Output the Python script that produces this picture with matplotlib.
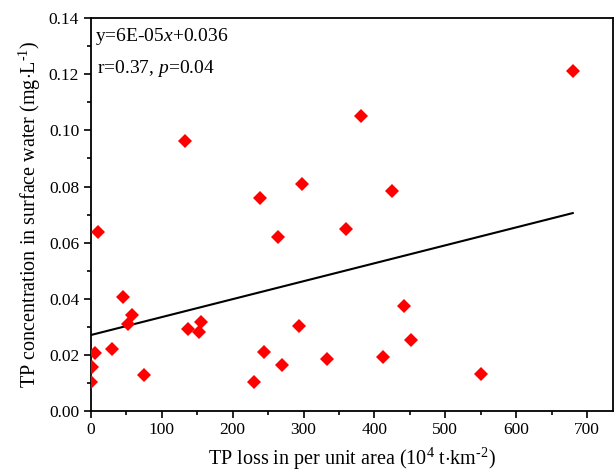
import numpy as np
import matplotlib
matplotlib.use("Agg")
import matplotlib.pyplot as plt
from matplotlib.ticker import MultipleLocator

# data
tp_loss = [132.8, 238.7, 10.3, 263.7, 44.7, 57.4, 52.7, 5.6, 29.2, 1.0, 0.0,
           75.3, 137.5, 154.9, 152.5, 244.8, 230.7, 270.2, 380.9, 297.6, 424.7,
           359.7, 441.6, 294.2, 452.0, 332.9, 412.0, 549.9, 680.3]
tp_conc = [0.0964, 0.0760, 0.0639, 0.0618, 0.0404, 0.0340, 0.0309, 0.0206, 0.0220,
           0.0156, 0.0101, 0.0128, 0.0290, 0.0316, 0.0281, 0.0208, 0.0101, 0.0163,
           0.1052, 0.0808, 0.0785, 0.0648, 0.0372, 0.0303, 0.0252, 0.0186, 0.0191,
           0.0131, 0.1214]

# fitted line as drawn in the picture
line_x = [0.0, 680.0]
line_intercept = 0.027
line_slope = 6.4e-05

plt.rcParams['font.family'] = ['Liberation Serif', 'DejaVu Serif']
plt.rcParams['mathtext.fontset'] = 'custom'
plt.rcParams['mathtext.rm'] = 'Liberation Serif'
plt.rcParams['mathtext.it'] = 'Liberation Serif:italic'

fig = plt.figure(figsize=(6.15, 4.72), dpi=100)
ax = fig.add_axes([0.148, 0.130, 0.849, 0.831])

ax.plot(tp_loss, tp_conc, linestyle='none', marker='D', color='#ff0000',
        markersize=7.5, markeredgewidth=0, zorder=3)

lx = np.array(line_x)
ax.plot(lx, line_intercept + line_slope * lx, color='black', linewidth=1.5, zorder=2)

ax.set_xlim(0, 737)
ax.set_ylim(0, 0.14)
ax.xaxis.set_major_locator(MultipleLocator(100))
ax.xaxis.set_minor_locator(MultipleLocator(50))
ax.yaxis.set_major_locator(MultipleLocator(0.02))
ax.yaxis.set_minor_locator(MultipleLocator(0.01))
ax.yaxis.set_major_formatter(matplotlib.ticker.FormatStrFormatter('%.2f'))

ax.tick_params(which='major', direction='out', length=5, width=1.2, labelsize=12.5)
ax.tick_params(which='minor', direction='out', length=3, width=1.2)
for s in ax.spines.values():
    s.set_linewidth(1.3)

ax.set_xlabel(r'TP loss in per unit area (10$^{4}$ t$\cdot$km$^{\text{-}2}$)', fontsize=14.5, labelpad=5)
ax.set_ylabel(r'TP concentration in surface water (mg$\cdot$L$^{\text{-}1}$)', fontsize=14.5, labelpad=4)

ax.text(0.007, 0.98, r'y=6E-05$\it{x}$+0.036', transform=ax.transAxes,
        fontsize=14, va='top', ha='left')
ax.text(0.012, 0.9, r'r=0.37, $\it{p}$=0.04', transform=ax.transAxes,
        fontsize=14, va='top', ha='left')

fig.savefig('out.png', dpi=100)
